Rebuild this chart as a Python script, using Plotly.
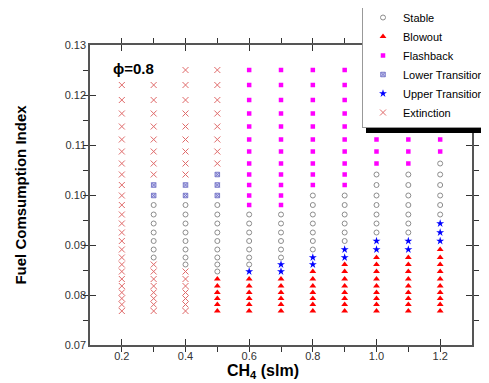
import plotly.graph_objects as go

# CH4 flow columns (slm)
ch4_flow = [0.2, 0.3, 0.4, 0.5, 0.6, 0.7, 0.8, 0.9, 1.0, 1.1, 1.2]

# Fuel consumption index levels (top to bottom)
fci_levels = [0.1250, 0.1220, 0.1190, 0.1163, 0.1137, 0.1111, 0.1087, 0.1063,
              0.1041, 0.1020, 0.0999, 0.0980, 0.0961, 0.0943, 0.0925, 0.0908,
              0.0891, 0.0875, 0.0861, 0.0847, 0.0832, 0.0818, 0.0805, 0.0793,
              0.0781, 0.0768]

# Flame regime per column, one code per level (top to bottom)
# S=Stable B=Blowout F=Flashback L=Lower Transition U=Upper Transition E=Extinction, '-'=no point
regime_02 = "-EEEEEEEEEEEEEEEEEEEEEEEEE"
regime_03 = "-EEEEEEEELLSSSSSSSEEEEEEEE"
regime_04 = "EEEEEEEEELLSSSSSSSSEEEEEEE"
regime_05 = "EEEEEEEELLLSSSSSSSSSBBBBBB"
regime_06 = "FFFFFFFFFFFFSSSSSSSUBBBBBB"
regime_07 = "FFFFFFFFFFFFSSSSSSUUBBBBBB"
regime_08 = "FFFFFFFFFFSSSSSSSUUBBBBBBB"
regime_09 = "FFFFFFFFFFSSSSSSUUBBBBBBBB"
regime_10 = "FFFFFFFFSSSSSSSUUBBBBBBBBB"
regime_11 = "FFFFFFFFSSSSSSSUUBBBBBBBBB"
regime_12 = "FFFFFFFSSSSSSUUUBBBBBBBBBB"
regimes = [regime_02, regime_03, regime_04, regime_05, regime_06, regime_07,
           regime_08, regime_09, regime_10, regime_11, regime_12]

series_names = {"S": "Stable", "B": "Blowout", "F": "Flashback",
                "L": "Lower Transition", "U": "Upper Transition", "E": "Extinction"}
series_order = ["S", "B", "F", "L", "U", "E"]

styles = {
    "S": dict(symbol="circle-open", size=5, color="#8c8c8c", line=dict(width=1, color="#8c8c8c")),
    "B": dict(symbol="triangle-up", size=6, color="#ff0000", line=dict(width=0)),
    "F": dict(symbol="square", size=4.5, color="#ff00ff", line=dict(width=0)),
    "L": dict(symbol="square-x", size=4.5, color="#d2d2f4", line=dict(width=1, color="#7878c8")),
    "U": dict(symbol="star", size=6, color="#0000ff", line=dict(width=0)),
    "E": dict(symbol="x-thin-open", size=6, color="#e06a6a", line=dict(width=1, color="#e06a6a")),
}

fig = go.Figure()
for code in series_order:
    xs, ys = [], []
    for xv, col in zip(ch4_flow, regimes):
        for yv, c in zip(fci_levels, col):
            if c == code:
                xs.append(xv)
                ys.append(yv)
    fig.add_trace(go.Scatter(x=xs, y=ys, mode="markers", name=series_names[code],
                             marker=styles[code]))

axis_common = dict(
    showgrid=False, zeroline=False, showline=True, linecolor="#555555", linewidth=1.5,
    mirror="allticks", ticks="inside", ticklen=6, tickwidth=1, tickcolor="#333333",
    tickfont=dict(family="Arial", size=11, color="#333333"),
)

fig.update_xaxes(range=[0.1, 1.3], tick0=0.2, dtick=0.2, tickformat=".1f",
                 minor=dict(dtick=0.1, tick0=0.1, ticks="outside", ticklen=5, tickcolor="#333333"),
                 **axis_common)
fig.update_yaxes(range=[0.07, 0.13], tick0=0.07, dtick=0.01, tickformat=".2f",
                 minor=dict(dtick=0.005, tick0=0.07, ticks="outside", ticklen=5, tickcolor="#333333"),
                 title=dict(text="<b>Fuel Comsumption Index</b>",
                            font=dict(family="Arial", size=15, color="black"),
                            standoff=34),
                 **axis_common)

fig.add_annotation(text="<b>CH<sub>4</sub> (slm)</b>", xref="paper", yref="paper",
                   x=0.453, y=-0.088, xanchor="center", yanchor="middle", showarrow=False,
                   font=dict(family="Arial", size=16, color="black"))
fig.add_annotation(text="<b>ϕ=0.8</b>", xref="paper", yref="paper",
                   x=0.113, y=0.923, xanchor="center", yanchor="middle", showarrow=False,
                   font=dict(family="Arial", size=15, color="black"))

# legend drop shadow
fig.add_shape(type="rect", xref="paper", yref="paper", layer="above",
              x0=(366 - 90) / 382, x1=(500 - 90) / 382,
              y0=(345 - 133) / 300, y1=(345 - 6) / 300,
              fillcolor="black", line=dict(width=0))

# page body adds an 8px offset, so the figure is 8px smaller on each axis
fig.update_layout(
    width=481, height=375,
    margin=dict(l=82, r=17, t=37, b=38, autoexpand=False),
    paper_bgcolor="white", plot_bgcolor="white",
    legend=dict(x=(362 - 90) / 382, y=(345 - 2) / 300, xanchor="left", yanchor="top",
                bgcolor="white", bordercolor="#999999", borderwidth=1,
                font=dict(family="Arial", size=11, color="black"), itemwidth=30),
    showlegend=True,
)

fig.write_html("out.html")
